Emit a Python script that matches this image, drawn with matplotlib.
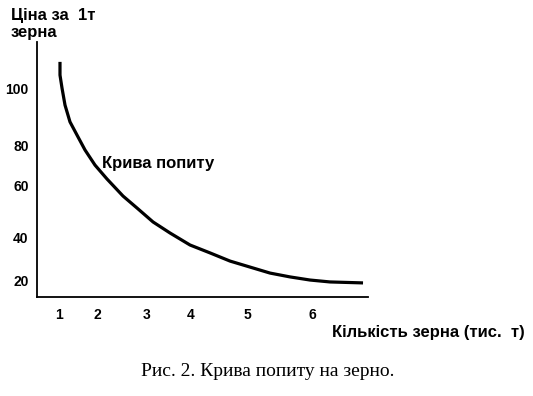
import matplotlib.pyplot as plt

# demand curve (x in axis units, y in price units)
qty = [0.605, 0.605, 0.658, 0.737, 0.868, 1.053, 1.263, 1.526, 1.842, 2.263, 2.632,
       3.053, 3.5, 4.026, 4.553, 5.079, 5.605, 6.132, 6.658, 7.184, 7.711, 8.579]
price = [111.3, 105.8, 100.4, 93.3, 86.3, 80.8, 74.6, 68.3, 62.5, 55.4, 50.4,
         44.6, 40.0, 35.0, 31.7, 28.3, 25.8, 23.3, 21.7, 20.4, 19.6, 19.2]

x_tick_pos = [0.58, 1.6, 2.89, 4.05, 5.53, 7.24]
x_tick_labels = ["1", "2", "3", "4", "5", "6"]
y_tick_pos = [20, 38.3, 59.6, 76.3, 100]
y_tick_labels = ["20", "40", "60", "80", "100"]

plt.rcParams["font.family"] = ["Liberation Sans", "DejaVu Sans"]

fig = plt.figure(figsize=(5.33, 3.96), dpi=100)
ax = fig.add_axes([37 / 533, 1 - 297 / 396, 331 / 533, 255 / 396])

ax.plot(qty, price, color="black", linewidth=2.3, solid_capstyle="butt",
        solid_joinstyle="round")

ax.set_xlim(0, 8.71)
ax.set_ylim(13.33, 119.58)
ax.set_xticks(x_tick_pos)
ax.set_xticklabels(x_tick_labels, fontweight="bold", fontsize=10)
ax.set_yticks(y_tick_pos)
ax.set_yticklabels(y_tick_labels, fontweight="bold", fontsize=10)
ax.tick_params(axis="y", length=0, pad=6)
ax.tick_params(axis="x", length=0, pad=8)

for side in ["top", "right"]:
    ax.spines[side].set_visible(False)
for side in ["left", "bottom"]:
    ax.spines[side].set_linewidth(1.3)

bold = dict(fontsize=12, fontweight="bold", va="baseline", ha="left")
fig.text(11 / 533, 1 - 20 / 396, "Ціна за  1т", **bold)
fig.text(11 / 533, 1 - 37 / 396, "зерна", **bold)
fig.text(102 / 533, 1 - 168 / 396, "Крива попиту", **bold)
fig.text(332 / 533, 1 - 337 / 396, "Кількість зерна (тис.  т)", **bold)
fig.text(268 / 533, 1 - 376 / 396, "Рис. 2. Крива попиту на зерно.", fontsize=14,
         family=["Liberation Serif", "DejaVu Serif"], va="baseline", ha="center")

fig.savefig("out.png", dpi=100)
